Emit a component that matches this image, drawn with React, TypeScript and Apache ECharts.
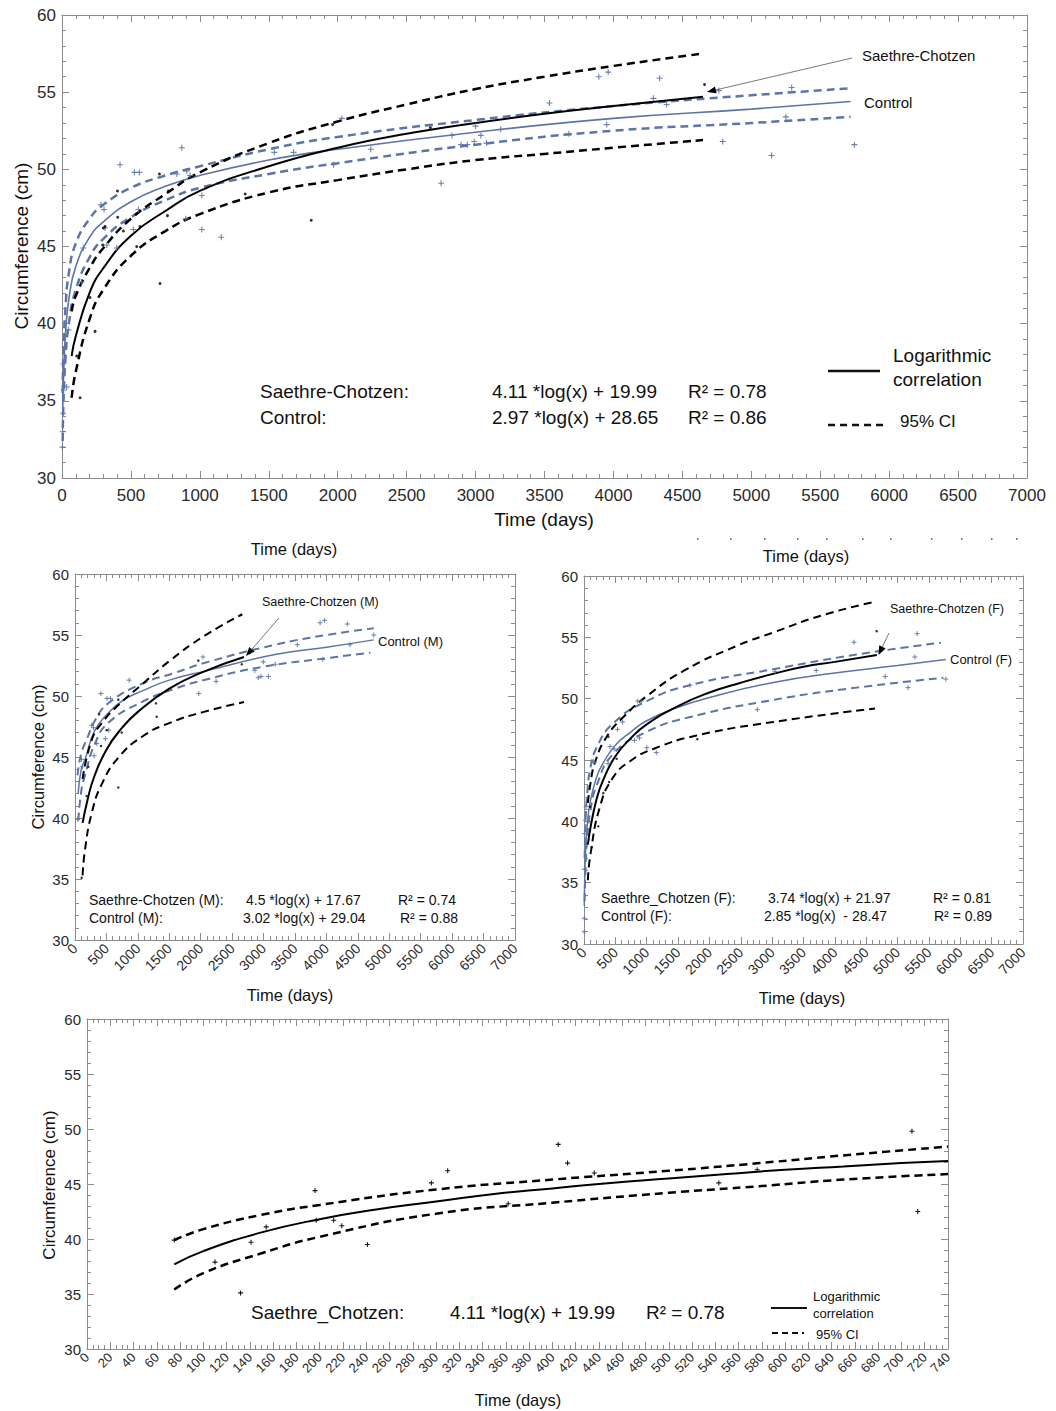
import React, { useEffect, useRef } from "react";
import * as echarts from "echarts";

// ---------- Panel A : all subjects (days 0-7000) ----------
const A_scFit = [[70,37.9],[100,39.2],[200,42.0],[300,43.6],[500,45.7],[750,47.3],[1000,48.6],[1500,50.2],[2000,51.4],[2500,52.3],[3000,53.0],[3500,53.6],[4000,54.1],[4650,54.7]];
const A_scUp = [[70,40.8],[100,41.8],[200,43.6],[300,44.9],[500,46.8],[750,48.4],[1000,49.8],[1500,51.7],[2000,53.1],[2500,54.2],[3000,55.2],[3500,56.0],[4000,56.7],[4650,57.5]];
const A_scLo = [[70,35.2],[100,36.9],[200,40.3],[300,42.2],[500,44.4],[750,46.0],[1000,47.1],[1500,48.5],[2000,49.3],[2500,50.0],[3000,50.6],[3500,51.0],[4000,51.4],[4650,51.9]];
const A_ctFit = [[5,34.0],[10,36.3],[25,39.3],[50,41.6],[100,43.7],[200,45.6],[300,46.6],[500,47.9],[750,48.9],[1000,49.6],[1500,50.6],[2000,51.3],[3000,52.4],[4000,53.3],[5000,53.9],[5720,54.4]];
const A_ctUp = [[5,35.5],[10,38.0],[25,41.0],[50,43.3],[100,45.2],[200,46.8],[300,47.7],[500,48.8],[750,49.6],[1000,50.2],[1500,51.3],[2000,52.1],[3000,53.2],[4000,54.1],[5000,54.8],[5720,55.25]];
const A_ctLo = [[5,32.4],[10,34.7],[25,37.7],[50,40.0],[100,42.2],[200,44.3],[300,45.5],[500,46.9],[750,48.0],[1000,48.8],[1500,49.7],[2000,50.4],[3000,51.6],[4000,52.5],[5000,53.0],[5720,53.4]];
const A_scPts = [[131,35.2],[107,37.9],[203,41.7],[240,39.5],[295,45.1],[300,46.2],[312,46.3],[402,48.6],[404,46.9],[445,46.0],[542,45.0],[566,46.3],[707,49.7],[711,42.6],[765,47.0],[772,48.6],[1329,48.4],[1808,46.7],[1963,52.9],[2672,52.7],[4661,55.5]];
const A_ctPts = [[3,32.0],[5,33.0],[8,34.2],[12,35.7],[10,37.4],[20,38.5],[34,35.9],[46,39.6],[143,42.7],[155,44.9],[283,47.7],[305,47.4],[312,46.2],[325,45.1],[397,44.9],[421,50.3],[518,46.1],[525,49.8],[554,47.4],[561,49.8],[833,49.7],[869,51.4],[898,46.8],[905,49.9],[929,49.6],[1014,48.3],[1014,46.1],[1155,45.6],[1540,51.1],[1680,51.1],[1970,50.3],[2030,53.3],[2240,51.3],[2750,49.1],[2828,52.2],[2895,51.6],[2940,51.6],[2990,51.8],[3000,52.8],[3038,52.2],[3079,51.7],[3183,52.6],[3536,54.3],[3677,52.3],[3894,56.0],[3962,56.3],[3951,52.9],[4290,54.6],[4335,55.9],[4386,54.2],[4765,55.1],[4793,51.8],[5147,50.9],[5251,53.4],[5293,55.3],[5748,51.6]];

// ---------- Panel B : males ----------
const B_scFit = [[121,39.6],[200,41.5],[300,43.3],[500,45.6],[750,47.4],[1000,48.7],[1500,50.6],[2000,51.9],[2688,53.2]];
const B_scUp = [[121,43.2],[266,46.4],[428,47.8],[700,49.3],[1077,51.0],[1510,52.9],[2050,54.9],[2661,56.7]];
const B_scLo = [[121,35.3],[159,37.4],[266,40.4],[428,42.8],[699,45.0],[1077,46.7],[1510,47.8],[2050,48.7],[2688,49.5]];
const B_ctFit = [[50,42.0],[100,44.0],[159,44.8],[318,47.2],[530,48.6],[750,49.6],[1061,50.4],[1500,51.3],[2121,52.1],[3182,53.4],[4000,54.0],[4753,54.6]];
const B_ctUp = [[40,43.5],[100,45.3],[200,46.6],[318,48.0],[530,49.4],[1061,51.0],[1591,51.9],[2121,52.8],[3182,54.2],[4000,55.0],[4753,55.55]];
const B_ctLo = [[53,39.8],[100,42.2],[159,43.5],[318,46.1],[530,47.8],[1061,49.5],[1591,50.6],[2121,51.4],[3000,52.4],[4000,53.1],[4700,53.55]];
const B_scPts = [[106,35.1],[185,41.8],[212,44.2],[382,48.5],[414,45.9],[504,47.2],[689,49.7],[689,42.5],[743,47.0],[1289,49.4],[1300,48.3],[1962,52.9],[2652,52.6]];
const B_ctPts = [[43,39.9],[104,44.8],[117,44.2],[266,47.6],[293,47.4],[304,45.1],[347,46.1],[412,50.2],[483,46.5],[509,49.8],[536,47.2],[563,49.8],[861,51.3],[1969,50.2],[2035,53.2],[2245,51.2],[2780,53.6],[2860,52.1],[2915,51.5],[2959,51.6],[2996,52.8],[3077,51.6],[3185,52.6],[3537,54.2],[3899,56.0],[3970,56.2],[3943,53.0],[4332,55.9],[4375,54.2],[4753,55.0]];

// ---------- Panel C : females ----------
const C_scFit = [[62,38.1],[100,39.4],[200,41.8],[300,43.3],[500,45.3],[750,46.8],[1000,47.9],[1500,49.4],[2000,50.5],[2500,51.3],[3000,52.0],[3500,52.6],[4000,53.0],[4669,53.56]];
const C_scUp = [[62,41.5],[100,43.0],[175,44.8],[362,46.9],[627,48.5],[1000,50.2],[1600,52.3],[2435,54.3],[3019,55.4],[3800,56.8],[4640,57.9]];
const C_scLo = [[62,35.2],[100,37.2],[255,41.2],[467,43.6],[733,44.9],[1105,45.9],[1797,47.0],[3019,48.1],[4640,49.2]];
const C_ctFit = [[5,33.1],[10,35.0],[25,37.6],[50,39.6],[100,41.6],[200,43.6],[300,44.7],[500,46.2],[750,47.3],[1000,48.2],[1500,49.3],[2000,50.1],[3000,51.3],[4000,52.1],[5000,52.7],[5769,53.2]];
const C_ctUp = [[10,37.0],[25,40.0],[50,42.2],[100,44.3],[200,46.0],[467,48.0],[1000,49.8],[1690,51.1],[3019,52.4],[4349,53.6],[5689,54.56]];
const C_ctLo = [[10,33.5],[25,36.3],[50,38.6],[100,40.8],[200,42.9],[467,45.5],[1000,47.3],[1690,48.5],[3019,49.9],[4349,50.9],[5730,51.7]];
const C_scPts = [[96,41.2],[123,37.9],[228,39.6],[308,42.3],[388,46.9],[400,43.2],[521,45.1],[1807,46.7],[4667,55.5]];
const C_ctPts = [[3,31.0],[4,32.1],[5,36.1],[8,39.0],[20,40.1],[32,41.2],[148,44.9],[160,44.8],[384,44.7],[415,46.1],[481,45.9],[534,47.5],[616,48.1],[804,46.6],[857,49.8],[884,46.8],[911,49.8],[1002,46.0],[1153,45.6],[1689,51.1],[2764,49.1],[3047,52.2],[3703,52.3],[4304,54.6],[4803,51.8],[5168,50.9],[5275,53.4],[5313,55.3],[5769,51.6]];

// ---------- Panel D : Saethre-Chotzen, days 0-740 ----------
const D_fit = [[75,37.7],[100,38.9],[150,40.6],[200,41.8],[250,42.7],[300,43.4],[350,44.1],[400,44.6],[450,45.1],[500,45.5],[550,45.9],[600,46.3],[650,46.6],[700,46.9],[740,47.1]];
const D_up = [[75,39.9],[100,40.9],[150,42.2],[200,43.1],[300,44.5],[400,45.4],[500,46.2],[578,46.9],[650,47.6],[740,48.4]];
const D_lo = [[75,35.4],[100,36.9],[150,38.7],[200,40.2],[300,42.3],[400,43.3],[500,44.2],[578,44.8],[650,45.4],[740,45.9]];
const D_pts = [[75,39.9],[110,37.9],[132,35.1],[141,39.7],[154,41.1],[196,44.4],[197,41.7],[212,41.7],[219,41.2],[241,39.5],[296,45.1],[310,46.2],[362,43.2],[405,48.6],[413,46.9],[436,46.0],[543,45.1],[576,46.3],[709,49.8],[714,42.5]];

const FONT = '"Liberation Sans", Arial, Helvetica, sans-serif';
const AX = "#8c8c8c";
const BLUE = "#5d74a6";
const INK = "#111";
const PLUS = "path://M0,5L10,5M5,0L5,10";

function axes(g: number, xmax: number, xint: number, xMinor: number, rot: number, xfs: number, yfs: number, xMargin: number) {
  const common = {
    gridIndex: g,
    type: "value",
    splitLine: { show: false },
    axisLine: { show: true, onZero: false, lineStyle: { color: AX, width: 1 } },
    axisTick: { show: true, inside: true, length: 7, lineStyle: { color: AX } },
  };
  const fmt = (v: number) => String(v);
  const xb = {
    ...common, min: 0, max: xmax, interval: xint, position: "bottom",
    minorTick: { show: true, splitNumber: xMinor, length: 4, lineStyle: { color: AX } },
    axisLabel: { show: true, fontSize: xfs, color: "#2a2a2a", fontFamily: FONT, rotate: rot, margin: xMargin, formatter: fmt },
  };
  const xt = { ...xb, position: "top", axisLabel: { show: false } };
  const yl = {
    ...common, min: 30, max: 60, interval: 5, position: "left",
    minorTick: { show: true, splitNumber: 5, length: 4, lineStyle: { color: AX } },
    axisLabel: { show: true, fontSize: yfs, color: "#2a2a2a", fontFamily: FONT, margin: 6, formatter: fmt },
  };
  const yr = { ...yl, position: "right", axisLabel: { show: false } };
  return { x: [xb, xt], y: [yl, yr] };
}

function line(g: number, data: number[][], color: string, width: number, dashed: boolean, z: number) {
  return {
    type: "line", xAxisIndex: 2 * g, yAxisIndex: 2 * g, data, showSymbol: false, symbol: "none",
    smooth: 0.5, silent: true, z,
    lineStyle: { color, width, type: dashed ? [8, 5] : "solid", cap: "butt" },
  };
}
function dots(g: number, data: number[][], size: number) {
  return {
    type: "scatter", xAxisIndex: 2 * g, yAxisIndex: 2 * g, data, symbol: "circle", symbolSize: size,
    itemStyle: { color: "#000" }, silent: true, z: 6,
  };
}
function plus(g: number, data: number[][], size: number, color: string, bw: number) {
  return {
    type: "scatter", xAxisIndex: 2 * g, yAxisIndex: 2 * g, data, symbol: PLUS, symbolSize: size,
    itemStyle: { color: "none", borderColor: color, borderWidth: bw, opacity: 0.9 }, silent: true, z: 5,
  };
}

function T(x: number, y: number, text: string, size: number, align = "left", rot = 0, fill = INK) {
  return {
    type: "text", x, y, rotation: rot, silent: true, z: 20,
    style: { text, fontSize: size, fontFamily: FONT, fill, align, verticalAlign: "middle" },
  };
}
function L(x1: number, y1: number, x2: number, y2: number, w: number, dash?: number[], stroke = INK) {
  return { type: "line", silent: true, z: 20, shape: { x1, y1, x2, y2 }, style: { stroke, lineWidth: w, lineDash: dash || null } };
}
function arrow(x1: number, y1: number, x2: number, y2: number) {
  const dx = x2 - x1, dy = y2 - y1;
  const len = Math.sqrt(dx * dx + dy * dy);
  const ux = dx / len, uy = dy / len;
  const bx = x2 - ux * 9, by = y2 - uy * 9;
  const px = -uy * 3.5, py = ux * 3.5;
  return [
    L(x1, y1, bx, by, 0.8, undefined, "#555"),
    { type: "polygon", silent: true, z: 20, shape: { points: [[x2, y2], [bx + px, by + py], [bx - px, by - py]] }, style: { fill: "#000" } },
  ];
}

export default function App() {
  const ref = useRef<HTMLDivElement>(null);
  useEffect(() => {
    if (!ref.current) return;
    const chart = echarts.init(ref.current, null, { renderer: "svg" });
    const a0 = axes(0, 7000, 500, 5, 0, 17, 17, 9);
    const a1 = axes(1, 7000, 500, 5, 45, 14, 15, 6);
    const a2 = axes(2, 7000, 500, 5, 45, 14, 15, 6);
    const a3 = axes(3, 740, 20, 4, 45, 13, 15, 6);

    const graphic: any[] = [
      // panel A
      T(544, 519, "Time (days)", 19, "center"),
      T(21, 246, "Circumference (cm)", 19, "center", Math.PI / 2),
      T(862, 55, "Saethre-Chotzen", 15),
      T(864, 102, "Control", 15),
      ...arrow(852, 58, 707, 92),
      T(260, 391, "Saethre-Chotzen:", 19), T(492, 391, "4.11 *log(x) + 19.99", 19), T(688, 391, "R² = 0.78", 19),
      T(260, 417, "Control:", 19), T(492, 417, "2.97 *log(x) + 28.65", 19), T(688, 417, "R² = 0.86", 19),
      L(828, 371, 880, 371, 2.5),
      T(893, 355, "Logarithmic", 19), T(893, 379, "correlation", 19),
      L(828, 425, 886, 425, 2.5, [7, 5]),
      T(900, 421, "95% CI", 17),
      // stray labels between panels
      T(294, 549, "Time (days)", 16.5, "center"),
      T(806, 556, "Time (days)", 16.5, "center"),
      // panel B
      T(290, 995, "Time (days)", 16.5, "center"),
      T(38, 757, "Circumference (cm)", 16.5, "center", Math.PI / 2),
      T(262, 602, "Saethre-Chotzen (M)", 12.5),
      ...arrow(279, 618, 246, 656),
      T(378, 641, "Control (M)", 13),
      T(89, 900, "Saethre-Chotzen (M):", 14), T(246, 900, "4.5 *log(x) + 17.67", 14), T(398, 900, "R² = 0.74", 14),
      T(89, 918, "Control (M):", 14), T(243, 918, "3.02 *log(x) + 29.04", 14), T(400, 918, "R² = 0.88", 14),
      // panel C
      T(802, 998, "Time (days)", 16.5, "center"),
      T(890, 609, "Saethre-Chotzen (F)", 12.5),
      ...arrow(889, 633, 878.5, 655),
      T(950, 659, "Control (F)", 13),
      T(601, 898, "Saethre_Chotzen (F):", 14), T(768, 898, "3.74 *log(x) + 21.97", 14), T(933, 898, "R² = 0.81", 14),
      T(601, 916, "Control (F):", 14), T(764, 916, "2.85 *log(x)  - 28.47", 14), T(934, 916, "R² = 0.89", 14),
      // panel D
      T(518, 1400, "Time (days)", 16.5, "center"),
      T(49, 1185, "Circumference (cm)", 17, "center", Math.PI / 2),
      T(251, 1312, "Saethre_Chotzen:", 19), T(450, 1312, "4.11 *log(x) + 19.99", 19), T(646, 1312, "R² = 0.78", 19),
      T(813, 1296, "Logarithmic", 13), T(813, 1313, "correlation", 13),
      L(771, 1308, 807, 1308, 2),
      L(772, 1333, 804, 1333, 2, [6, 4]),
      T(816, 1334, "95% CI", 13),
    ];
    [697, 730, 764, 797, 826, 862, 890, 931, 961, 991, 1016].forEach((x) => {
      graphic.push({ type: "rect", silent: true, shape: { x, y: 538, width: 1.5, height: 2 }, style: { fill: "#777" } });
    });

    chart.setOption({
      animation: false,
      backgroundColor: "#fff",
      textStyle: { fontFamily: FONT },
      grid: [
        { left: 62, top: 15, width: 965, height: 463, containLabel: false, outerBoundsMode: "none" },
        { left: 75, top: 574, width: 440, height: 366, containLabel: false, outerBoundsMode: "none" },
        { left: 584, top: 576, width: 439, height: 368, containLabel: false, outerBoundsMode: "none" },
        { left: 87, top: 1019, width: 861, height: 330, containLabel: false, outerBoundsMode: "none" },
      ],
      xAxis: [...a0.x, ...a1.x, ...a2.x, ...a3.x],
      yAxis: [...a0.y, ...a1.y, ...a2.y, ...a3.y],
      series: [
        // A
        line(0, A_ctUp, BLUE, 2.5, true, 2), line(0, A_ctLo, BLUE, 2.5, true, 2), line(0, A_ctFit, BLUE, 1.6, false, 3),
        line(0, A_scUp, "#000", 2.5, true, 3), line(0, A_scLo, "#000", 2.5, true, 3), line(0, A_scFit, "#000", 2, false, 4),
        plus(0, A_ctPts, 6, BLUE, 1.1), dots(0, A_scPts, 3),
        // B
        line(1, B_ctUp, BLUE, 2, true, 2), line(1, B_ctLo, BLUE, 2, true, 2), line(1, B_ctFit, BLUE, 1.5, false, 3),
        line(1, B_scUp, "#000", 2, true, 3), line(1, B_scLo, "#000", 2, true, 3), line(1, B_scFit, "#000", 2, false, 4),
        plus(1, B_ctPts, 5, BLUE, 1), dots(1, B_scPts, 2.5),
        // C
        line(2, C_ctUp, BLUE, 2, true, 2), line(2, C_ctLo, BLUE, 2, true, 2), line(2, C_ctFit, BLUE, 1.5, false, 3),
        line(2, C_scUp, "#000", 2, true, 3), line(2, C_scLo, "#000", 2, true, 3), line(2, C_scFit, "#000", 2, false, 4),
        plus(2, C_ctPts, 5, BLUE, 1), dots(2, C_scPts, 2.5),
        // D
        line(3, D_up, "#000", 2.5, true, 3), line(3, D_lo, "#000", 2.5, true, 3), line(3, D_fit, "#000", 2, false, 4),
        plus(3, D_pts, 5, "#000", 1.1),
      ],
      graphic,
    });
    return () => chart.dispose();
  }, []);
  return <div ref={ref} style={{ position: "absolute", left: 0, top: 0, width: 1056, height: 1411, background: "#fff" }} />;
}
